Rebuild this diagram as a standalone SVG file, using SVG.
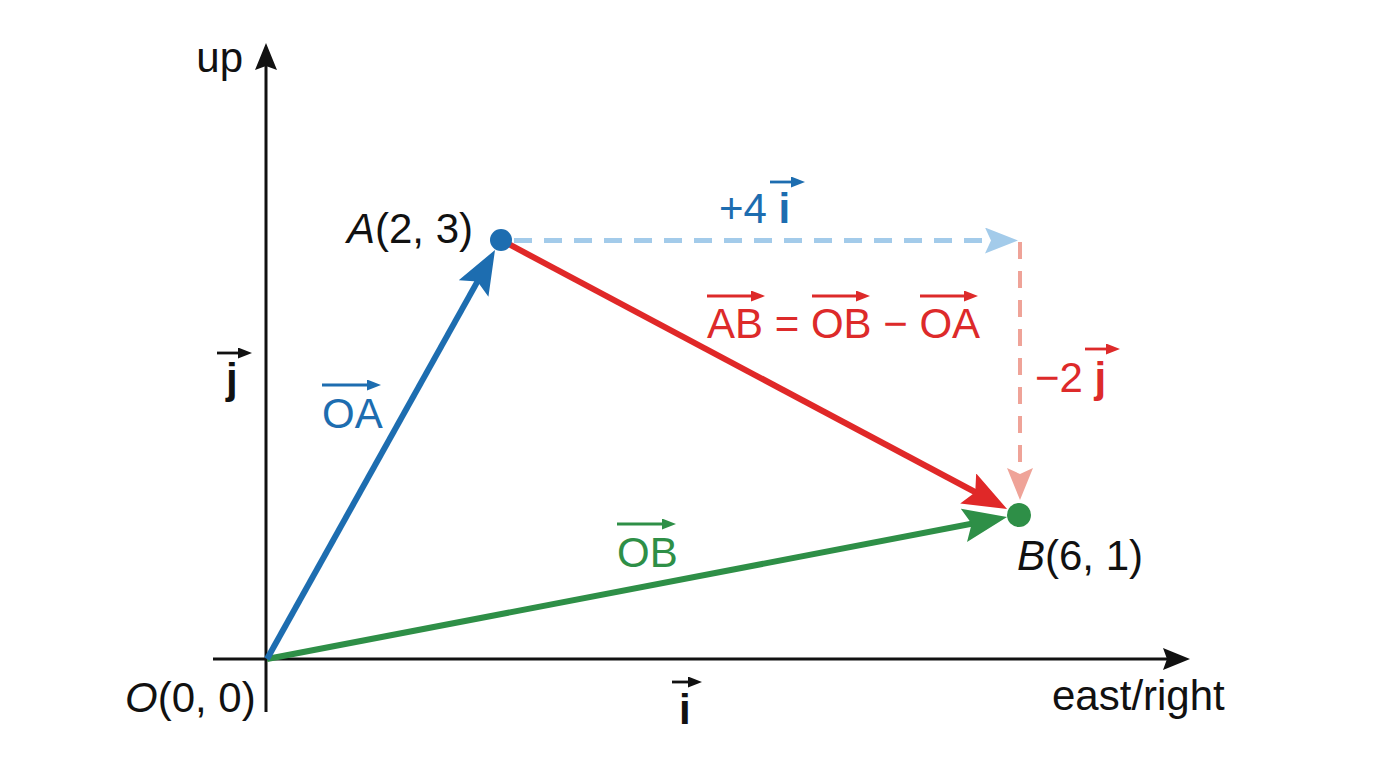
<svg xmlns="http://www.w3.org/2000/svg" width="1376" height="768" viewBox="0 0 1376 768">
<style>
text{font-family:"Liberation Sans",Arial,sans-serif;font-size:42px}
.k{fill:#111}.b{fill:#1d6db0}.r{fill:#dd2a2a}.g{fill:#2e8f47}
.it{font-style:italic}.bd{font-weight:bold}
.ax{stroke:#111;stroke-width:3;fill:none}
.vec{stroke-width:6;fill:none}
.ov{stroke-width:2.8;fill:none}
</style>
<defs>
<marker id="axh" markerUnits="userSpaceOnUse" viewBox="0 0 27 22" markerWidth="27" markerHeight="22" refX="5" refY="11" orient="auto"><path d="M0,0 L27,11 L0,22 L4,11 z" fill="#111"/></marker>
<marker id="hb" markerUnits="userSpaceOnUse" viewBox="0 0 44 34" markerWidth="44" markerHeight="34" refX="29" refY="17" orient="auto"><path d="M0,0 L44,17 L0,34 L8,17 z" fill="#1d6db0"/></marker>
<marker id="hr" markerUnits="userSpaceOnUse" viewBox="0 0 44 34" markerWidth="44" markerHeight="34" refX="29" refY="17" orient="auto"><path d="M0,0 L44,17 L0,34 L8,17 z" fill="#e02828"/></marker>
<marker id="hg" markerUnits="userSpaceOnUse" viewBox="0 0 44 34" markerWidth="44" markerHeight="34" refX="29" refY="17" orient="auto"><path d="M0,0 L44,17 L0,34 L8,17 z" fill="#2e8f47"/></marker>
<marker id="hlb" markerUnits="userSpaceOnUse" viewBox="0 0 33 26" markerWidth="33" markerHeight="26" refX="15" refY="13" orient="auto"><path d="M0,0 L33,13 L0,26 L6,13 z" fill="#a3cbea"/></marker>
<marker id="hpk" markerUnits="userSpaceOnUse" viewBox="0 0 32 26" markerWidth="32" markerHeight="26" refX="16" refY="13" orient="auto"><path d="M0,0 L32,13 L0,26 L6,13 z" fill="#efa398"/></marker>
<marker id="sk" markerUnits="userSpaceOnUse" viewBox="0 0 14 11" markerWidth="14" markerHeight="11" refX="2" refY="5.5" orient="auto"><path d="M0,0 L14,5.5 L0,11 z" fill="#111"/></marker>
<marker id="sb" markerUnits="userSpaceOnUse" viewBox="0 0 14 11" markerWidth="14" markerHeight="11" refX="2" refY="5.5" orient="auto"><path d="M0,0 L14,5.5 L0,11 z" fill="#1d6db0"/></marker>
<marker id="sr" markerUnits="userSpaceOnUse" viewBox="0 0 14 11" markerWidth="14" markerHeight="11" refX="2" refY="5.5" orient="auto"><path d="M0,0 L14,5.5 L0,11 z" fill="#dd2a2a"/></marker>
<marker id="sg" markerUnits="userSpaceOnUse" viewBox="0 0 14 11" markerWidth="14" markerHeight="11" refX="2" refY="5.5" orient="auto"><path d="M0,0 L14,5.5 L0,11 z" fill="#2e8f47"/></marker>
</defs>

<g id="axes">
<line class="ax" x1="266" y1="712" x2="266" y2="65" marker-end="url(#axh)"/>
<line class="ax" x1="213" y1="659" x2="1168" y2="659" marker-end="url(#axh)"/>
<text class="k" x="243" y="72" text-anchor="end">up</text>
<text class="k" x="1052" y="710">east/right</text>
<g id="unit-j"><text class="k bd" x="226" y="393">j</text><line class="ov" stroke="#111" x1="217" y1="353" x2="240" y2="353" marker-end="url(#sk)"/></g>
<g id="unit-i"><text class="k bd" x="679" y="724">i</text><line class="ov" stroke="#111" x1="672" y1="682" x2="690" y2="682" marker-end="url(#sk)"/></g>
</g>

<g id="connectors">
<line class="vec" stroke="#2e8f47" x1="267" y1="659" x2="992.3" y2="519.8" marker-end="url(#hg)"/>
<line class="vec" stroke="#1d6db0" x1="267" y1="659" x2="487.7" y2="263.1" marker-end="url(#hb)"/>
<line class="vec" stroke="#e02828" x1="501" y1="240" x2="993.8" y2="502" marker-end="url(#hr)"/>
<line stroke="#a3cbea" stroke-width="5" stroke-dasharray="18 12" x1="514" y1="240.5" x2="1000" y2="240.5" marker-end="url(#hlb)"/>
<line stroke="#efa398" stroke-width="4" stroke-dasharray="17 12" x1="1020" y1="242" x2="1020" y2="484" marker-end="url(#hpk)"/>
</g>

<g id="node-O">
<text class="k" x="125" y="712"><tspan class="it">O</tspan>(0, 0)</text>
</g>
<g id="node-A">
<circle cx="501" cy="240" r="11" fill="#1d6db0"/>
<text class="k" x="347" y="243"><tspan class="it">A</tspan>(2, 3)</text>
</g>
<g id="node-B">
<circle cx="1019" cy="515" r="12" fill="#2e8f47"/>
<text class="k" x="1017" y="570"><tspan class="it">B</tspan>(6, 1)</text>
</g>

<g id="label-OA">
<text class="b" x="322" y="428">OA</text>
<line class="ov" stroke="#1d6db0" x1="322" y1="385" x2="369" y2="385" marker-end="url(#sb)"/>
</g>
<g id="label-OB">
<text class="g" x="617" y="567">OB</text>
<line class="ov" stroke="#2e8f47" x1="617" y1="524" x2="664" y2="524" marker-end="url(#sg)"/>
</g>
<g id="label-AB">
<text class="r" x="707" y="338">AB = OB − OA</text>
<line class="ov" stroke="#dd2a2a" x1="707" y1="296" x2="753" y2="296" marker-end="url(#sr)"/>
<line class="ov" stroke="#dd2a2a" x1="812" y1="296" x2="858" y2="296" marker-end="url(#sr)"/>
<line class="ov" stroke="#dd2a2a" x1="920" y1="296" x2="966" y2="296" marker-end="url(#sr)"/>
</g>
<g id="label-plus4i">
<text class="b" x="719" y="223">+4 <tspan class="bd">i</tspan></text>
<line class="ov" stroke="#1d6db0" x1="770" y1="182" x2="793" y2="182" marker-end="url(#sb)"/>
</g>
<g id="label-minus2j">
<text class="r" x="1035" y="392">−2 <tspan class="bd">j</tspan></text>
<line class="ov" stroke="#dd2a2a" x1="1085" y1="349" x2="1108" y2="349" marker-end="url(#sr)"/>
</g>
</svg>
